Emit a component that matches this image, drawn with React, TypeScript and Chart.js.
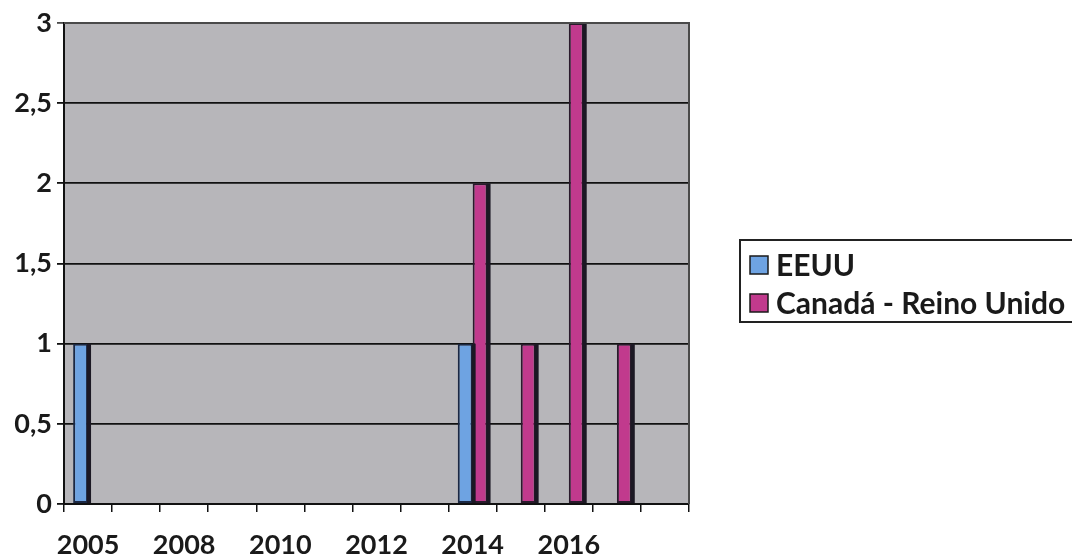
import React, { useEffect, useRef } from 'react';
import { Chart, registerables } from 'chart.js';

Chart.register(...registerables);

// Years on the category axis; only every other one carries a printed label.
const years = ['2005', '2007', '2008', '2009', '2010', '2011', '2012', '2013', '2014', '2015', '2016', '2017', '2018'];
const yearTickLabels = ['2005', '', '2008', '', '2010', '', '2012', '', '2014', '', '2016', '', ''];

// Counts per year (null = no bar).
const eeuuValues = [1, null, null, null, null, null, null, null, 1, null, null, null, null];
const canadaReinoUnidoValues = [null, null, null, null, null, null, null, null, 2, 1, 3, 1, null];

const seriesNames = ['EEUU', 'Canadá - Reino Unido'];
const seriesFill = ['#6ea3e2', '#c13a8d'];
const seriesEdge = ['#1b2844', '#2a1a2c'];

const FONT = 'Lato, "Open Sans", sans-serif';
const TEXT = '#1a1a1a';

// Grey wall behind the bars plus the dark frame on top/right.
const plotWall = {
  id: 'plotWall',
  beforeDraw(chart: any) {
    const { ctx, chartArea: a } = chart;
    ctx.save();
    ctx.fillStyle = '#b7b6ba';
    ctx.fillRect(a.left, a.top, a.right - a.left, a.bottom - a.top);
    ctx.restore();
  },
  afterDraw(chart: any) {
    const { ctx, chartArea: a } = chart;
    ctx.save();
    ctx.strokeStyle = '#4a4a4a';
    ctx.lineWidth = 2;
    ctx.beginPath();
    ctx.moveTo(a.left, a.top);
    ctx.lineTo(a.right, a.top);
    ctx.lineTo(a.right, a.bottom);
    ctx.stroke();
    ctx.restore();
  },
};

// Dark strip along the right side of each column, taken from the bar elements.
const columnShade = {
  id: 'columnShade',
  afterDatasetsDraw(chart: any) {
    const ctx = chart.ctx;
    ctx.save();
    chart.data.datasets.forEach((_ds: any, di: number) => {
      const meta = chart.getDatasetMeta(di);
      meta.data.forEach((bar: any, i: number) => {
        if (chart.data.datasets[di].data[i] == null) return;
        const { x, y, base, width } = bar.getProps(['x', 'y', 'base', 'width'], true);
        const right = x + width / 2;
        ctx.fillStyle = '#1c1824';
        ctx.fillRect(right - 1, y, 4, base - y);
      });
    });
    ctx.restore();
  },
};

// Framed legend to the right of the plot.
const sideLegend = {
  id: 'sideLegend',
  afterDraw(chart: any) {
    const { ctx, chartArea: a } = chart;
    const left = a.right + 51;
    const top = 240;
    const rowH = 38;
    const height = 82;
    ctx.save();
    ctx.strokeStyle = '#222';
    ctx.lineWidth = 2;
    ctx.strokeRect(left, top, chart.width - left + 20, height);
    ctx.font = `bold 30px ${FONT}`;
    ctx.textBaseline = 'middle';
    chart.data.datasets.forEach((ds: any, i: number) => {
      const cy = top + 25 + i * rowH;
      ctx.fillStyle = ds.backgroundColor;
      ctx.fillRect(left + 10, cy - 9, 18, 18);
      ctx.strokeStyle = '#1a1a1a';
      ctx.lineWidth = 1.5;
      ctx.strokeRect(left + 10, cy - 9, 18, 18);
      ctx.fillStyle = TEXT;
      ctx.fillText(ds.label, left + 36, cy + 1);
    });
    ctx.restore();
  },
};

export default function App() {
  const canvasRef = useRef<HTMLCanvasElement | null>(null);

  useEffect(() => {
    if (!canvasRef.current) return;
    const chart = new Chart(canvasRef.current, {
      type: 'bar',
      data: {
        labels: years,
        datasets: [
          {
            label: seriesNames[0],
            data: eeuuValues,
            backgroundColor: seriesFill[0],
            borderColor: seriesEdge[0],
            borderWidth: 2,
            borderSkipped: false,
          },
          {
            label: seriesNames[1],
            data: canadaReinoUnidoValues,
            backgroundColor: seriesFill[1],
            borderColor: seriesEdge[1],
            borderWidth: 2,
            borderSkipped: false,
          },
        ],
      },
      options: {
        animation: false,
        responsive: true,
        maintainAspectRatio: false,
        layout: { padding: { top: 23, right: 383, left: 0, bottom: 0 } },
        datasets: { bar: { categoryPercentage: 0.62, barPercentage: 1.0 } },
        plugins: {
          legend: { display: false },
          tooltip: { enabled: false },
        },
        scales: {
          x: {
            grid: {
              display: true,
              drawOnChartArea: false,
              drawTicks: true,
              tickLength: 8,
              color: '#111',
              lineWidth: 1.5,
              offset: true,
            },
            border: { display: true, color: '#111', width: 2 },
            ticks: {
              autoSkip: false,
              maxRotation: 0,
              minRotation: 0,
              padding: 17,
              color: TEXT,
              font: { family: FONT, weight: 'bold', size: 27 },
              callback: (_v: any, i: number) => yearTickLabels[i],
            },
            afterFit: (s: any) => {
              s.height = 53;
            },
          },
          y: {
            min: 0,
            max: 3,
            ticks: {
              stepSize: 0.5,
              padding: 5,
              color: TEXT,
              font: { family: FONT, weight: 'bold', size: 27 },
              callback: (v: any) => String(v).replace('.', ','),
            },
            grid: {
              color: (c: any) => (c.tick && c.tick.value === 3 ? '#4a4a4a' : '#111'),
              lineWidth: 1.8,
              tickLength: 7,
            },
            border: { display: true, color: '#111', width: 2 },
            afterFit: (s: any) => {
              s.width = 64;
            },
          },
        },
      },
      plugins: [plotWall, columnShade, sideLegend],
    });
    return () => chart.destroy();
  }, []);

  return (
    <div style={{ position: 'fixed', left: 0, top: 0, width: 1072, height: 557, background: '#fff' }}>
      <canvas ref={canvasRef} />
    </div>
  );
}
